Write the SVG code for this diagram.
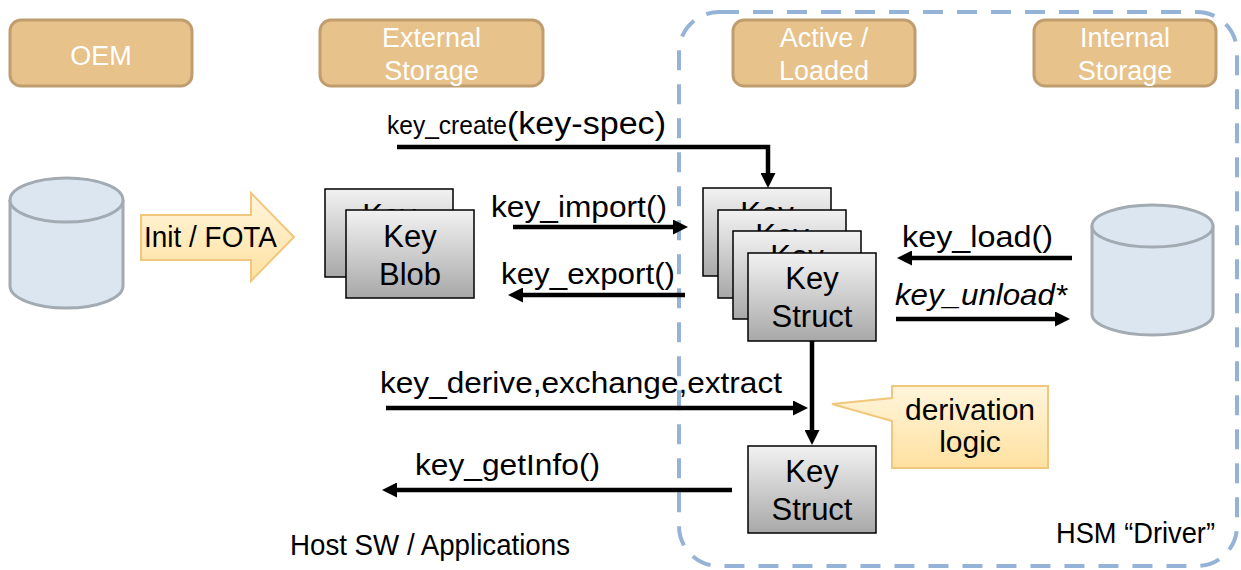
<svg xmlns="http://www.w3.org/2000/svg" width="1241" height="570" viewBox="0 0 1241 570">
<defs>
<style>
.hdr{fill:#E7C28B;stroke:#C09D6E;stroke-width:3}
.ht{font-family:"Liberation Sans",Arial,sans-serif;font-size:27px;fill:#ffffff;text-anchor:middle}
.card{fill:url(#cardGrad);stroke:#000;stroke-width:1.5}
.ct{font-family:"Liberation Sans",Arial,sans-serif;font-size:31px;fill:#000;text-anchor:middle}
.lbl{font-family:"Liberation Sans",Arial,sans-serif;font-size:30px;fill:#000}
.cyl{fill:#DCE6F1;stroke:#A2AAB2;stroke-width:3}
.conn{fill:none;stroke:#000;stroke-width:4.5}
</style>
<linearGradient id="cardGrad" x1="0" y1="0" x2="0" y2="1">
<stop offset="0" stop-color="#F2F2F2"/>
<stop offset="1" stop-color="#A8A8A8"/>
</linearGradient>
<linearGradient id="yelGrad" x1="0" y1="0" x2="0" y2="1">
<stop offset="0" stop-color="#FFF5DC"/>
<stop offset="1" stop-color="#FFE1A0"/>
</linearGradient>
<marker id="ah" markerUnits="userSpaceOnUse" markerWidth="15" markerHeight="15" refX="3" refY="7.5" orient="auto">
<path d="M0,0 L15,7.5 L0,15 z" fill="#000"/>
</marker>
</defs>
<rect width="1241" height="570" fill="#ffffff"/>

<g id="hsm-driver">
<rect x="679" y="12" width="558" height="554" rx="40" ry="40" fill="none" stroke="#95B3D7" stroke-width="4" stroke-dasharray="20 14"/>
<text x="1215" y="543" class="lbl" font-size="27" text-anchor="end" textLength="159" lengthAdjust="spacingAndGlyphs">HSM “Driver”</text>
</g>

<g id="hdr-oem">
<rect x="10" y="20" width="182" height="66" rx="11" class="hdr"/>
<text x="101" y="65" class="ht" font-size="31">OEM</text>
</g>
<g id="hdr-external">
<rect x="320" y="20" width="223" height="66" rx="11" class="hdr"/>
<text x="431.5" y="47" class="ht">External</text>
<text x="431.5" y="80" class="ht">Storage</text>
</g>
<g id="hdr-active">
<rect x="733" y="20" width="182" height="66" rx="11" class="hdr"/>
<text x="824" y="47" class="ht">Active /</text>
<text x="824" y="80" class="ht">Loaded</text>
</g>
<g id="hdr-internal">
<rect x="1034" y="20" width="182" height="66" rx="11" class="hdr"/>
<text x="1125" y="47" class="ht">Internal</text>
<text x="1125" y="80" class="ht">Storage</text>
</g>

<g id="oem-db">
<path d="M10,200 V286 A56.5,22 0 0 0 123,286 V200" class="cyl"/>
<ellipse cx="66.5" cy="200" rx="56.5" ry="22" class="cyl"/>
</g>

<g id="init-fota">
<polygon points="141,215 251,215 251,193 294,237 251,281 251,260 141,260" fill="url(#yelGrad)" stroke="#F0C77C" stroke-width="2"/>
<text x="144" y="247" class="lbl" font-size="27" textLength="133" lengthAdjust="spacingAndGlyphs">Init / FOTA</text>
</g>

<g id="key-blob">
<rect x="325" y="189" width="128" height="88" class="card"/>
<text x="389" y="226" class="ct">Key</text>
<rect x="346" y="210" width="128" height="88" class="card"/>
<text x="410" y="247" class="ct">Key</text>
<text x="410" y="285" class="ct">Blob</text>
</g>

<g id="key-struct-stack">
<rect x="703" y="188" width="128" height="88" class="card"/>
<text x="767" y="224" class="ct">Key</text>
<rect x="718" y="210" width="128" height="88" class="card"/>
<text x="782" y="246" class="ct">Key</text>
<rect x="733" y="231" width="128" height="88" class="card"/>
<text x="797" y="267" class="ct">Key</text>
<rect x="748" y="253" width="128" height="88" class="card"/>
<text x="812" y="289" class="ct">Key</text>
<text x="812" y="327" class="ct">Struct</text>
</g>

<g id="key-struct-derived">
<rect x="748" y="446" width="128" height="87" class="card"/>
<text x="812" y="482" class="ct">Key</text>
<text x="812" y="520" class="ct">Struct</text>
</g>

<g id="internal-db">
<path d="M1092,226 V314 A60.5,21 0 0 0 1213,314 V226" class="cyl"/>
<ellipse cx="1152.5" cy="226" rx="60.5" ry="21" class="cyl"/>
</g>

<g id="derivation-logic">
<path d="M892,386 H1048 V468 H892 V421 L832,404 L892,398 Z" fill="url(#yelGrad)" stroke="#F0C77C" stroke-width="2"/>
<text x="970" y="420" class="lbl" font-size="26" text-anchor="middle">derivation</text>
<text x="970" y="452" class="lbl" font-size="26" text-anchor="middle">logic</text>
</g>

<g id="host-label">
<text x="290" y="555" class="lbl" font-size="27" textLength="280" lengthAdjust="spacingAndGlyphs">Host SW / Applications</text>
</g>

<g id="connectors">
<path d="M397,147 H768 V176" class="conn" marker-end="url(#ah)"/>
<path d="M513,227 H676" class="conn" marker-end="url(#ah)"/>
<path d="M685,295 H520" class="conn" marker-end="url(#ah)"/>
<path d="M1072,258 H909" class="conn" marker-end="url(#ah)"/>
<path d="M896,319 H1058" class="conn" marker-end="url(#ah)"/>
<path d="M386,408 H796" class="conn" marker-end="url(#ah)"/>
<path d="M812,341 V433" class="conn" marker-end="url(#ah)"/>
<path d="M732,490 H394" class="conn" marker-end="url(#ah)"/>
<text x="387" y="134" class="lbl"><tspan font-size="25" textLength="120" lengthAdjust="spacingAndGlyphs">key_create</tspan><tspan font-size="31" textLength="159" lengthAdjust="spacingAndGlyphs">(key-spec)</tspan></text>
<text x="491" y="217" class="lbl" textLength="176" lengthAdjust="spacingAndGlyphs">key_import()</text>
<text x="501" y="284" class="lbl" textLength="174" lengthAdjust="spacingAndGlyphs">key_export()</text>
<text x="902" y="247" class="lbl" textLength="151" lengthAdjust="spacingAndGlyphs">key_load()</text>
<text x="895" y="305" class="lbl" font-style="italic" textLength="172" lengthAdjust="spacingAndGlyphs">key_unload*</text>
<text x="380" y="393" class="lbl" font-size="31" textLength="402" lengthAdjust="spacingAndGlyphs">key_derive,exchange,extract</text>
<text x="415" y="475" class="lbl" font-size="31" textLength="185" lengthAdjust="spacingAndGlyphs">key_getInfo()</text>
</g>
</svg>
